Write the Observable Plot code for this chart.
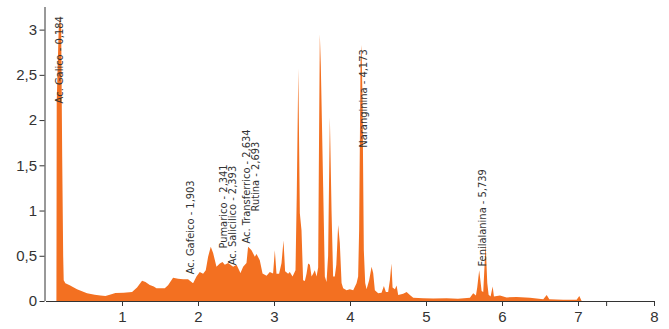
<!DOCTYPE html>
<html>
<head>
<meta charset="utf-8">
<script src="https://cdn.jsdelivr.net/npm/d3@7"></script>
<script src="https://cdn.jsdelivr.net/npm/@observablehq/plot@0.6"></script>
<style>
  html, body { margin: 0; padding: 0; background: #fff; }
  #chart svg { display: block; }
</style>
</head>
<body>
<div id="chart"></div>
<script>
// Retention time (min) and detector response
const time = [
  0.137, 0.141, 0.167, 0.184, 0.200, 0.213, 0.226, 0.233, 0.255, 0.312,
  0.408, 0.540, 0.641, 0.716, 0.782, 0.839, 0.914, 1.023, 1.132, 1.198,
  1.264, 1.309, 1.365, 1.418, 1.453, 1.563, 1.606, 1.672, 1.738, 1.804,
  1.869, 1.935, 1.980, 2.023, 2.067, 2.102, 2.133, 2.168, 2.199, 2.243,
  2.287, 2.322, 2.353, 2.396, 2.462, 2.507, 2.559, 2.594, 2.638, 2.659,
  2.704, 2.748, 2.770, 2.813, 2.849, 2.902, 2.945, 2.988, 3.011, 3.033,
  3.067, 3.099, 3.125, 3.146, 3.186, 3.208, 3.244, 3.283, 3.300, 3.320,
  3.340, 3.362, 3.383, 3.406, 3.428, 3.449, 3.472, 3.494, 3.515, 3.537,
  3.560, 3.581, 3.590, 3.603, 3.616, 3.630, 3.647, 3.669, 3.691, 3.712,
  3.735, 3.757, 3.778, 3.800, 3.820, 3.844, 3.866, 3.889, 3.910, 3.955,
  3.998, 4.042, 4.086, 4.107, 4.120, 4.139, 4.152, 4.165, 4.182, 4.200,
  4.218, 4.252, 4.284, 4.305, 4.327, 4.371, 4.415, 4.446, 4.472, 4.502,
  4.525, 4.545, 4.560, 4.591, 4.613, 4.634, 4.700, 4.745, 4.788, 4.832,
  4.963, 5.095, 5.271, 5.420, 5.578, 5.621, 5.657, 5.674, 5.700, 5.732,
  5.753, 5.785, 5.806, 5.824, 5.850, 5.877, 5.894, 5.973, 6.061, 6.193,
  6.368, 6.543, 6.588, 6.622, 6.806, 6.982, 7.017, 7.048
];
const response = [
  0.000, 2.200, 3.000, 3.150, 3.000, 1.600, 0.500, 0.230, 0.195, 0.175,
  0.130, 0.085, 0.070, 0.060, 0.055, 0.070, 0.088, 0.090, 0.100, 0.150,
  0.225, 0.210, 0.177, 0.160, 0.140, 0.140, 0.175, 0.257, 0.245, 0.240,
  0.240, 0.195, 0.270, 0.320, 0.300, 0.340, 0.490, 0.600, 0.530, 0.380,
  0.415, 0.430, 0.400, 0.420, 0.380, 0.400, 0.310, 0.380, 0.420, 0.600,
  0.560, 0.490, 0.520, 0.450, 0.305, 0.280, 0.320, 0.305, 0.560, 0.300,
  0.300, 0.420, 0.670, 0.330, 0.300, 0.320, 0.270, 0.340, 1.200, 2.570,
  0.970, 0.780, 0.230, 0.220, 0.300, 0.415, 0.400, 0.270, 0.300, 0.340,
  0.270, 0.370, 1.500, 2.950, 2.600, 2.000, 1.260, 0.270, 0.210, 0.500,
  2.030, 1.000, 0.270, 0.270, 0.400, 0.840, 0.640, 0.200, 0.140, 0.120,
  0.130, 0.120, 0.195, 0.270, 0.780, 2.660, 2.830, 2.200, 0.560, 0.200,
  0.130, 0.230, 0.380, 0.310, 0.120, 0.085, 0.090, 0.165, 0.100, 0.100,
  0.230, 0.415, 0.150, 0.130, 0.170, 0.066, 0.080, 0.100, 0.065, 0.037,
  0.030, 0.028, 0.030, 0.025, 0.035, 0.085, 0.060, 0.150, 0.340, 0.110,
  0.100, 0.640, 0.200, 0.070, 0.050, 0.160, 0.050, 0.060, 0.040, 0.045,
  0.035, 0.020, 0.066, 0.020, 0.015, 0.015, 0.055, 0.000
];

// Peak annotations
const peakNames = [
  "Ac. Galico - 0,184", "Ac. Gafeico - 1,903", "Pumarico - 2,341",
  "Ac. Salicilico - 2,393", "Ac. Transferrico - 2,634", "Rutina - 2,693",
  "Naranginina - 4,173", "Fenilalanina - 5,739"
];
const peakTimes = [0.184, 1.903, 2.341, 2.393, 2.634, 2.693, 4.173, 5.739];
const peakLabelLevel = [2.19, 0.30, 0.585, 0.40, 0.64, 0.995, 1.70, 0.387];

const xTicks = [1, 2, 3, 4, 5, 6, 7, 7.37, 8];
const yTicks = [0, 0.5, 1, 1.5, 2, 2.5, 3];

const series = time.map((t, i) => ({t, v: response[i]}));
const peaks = peakNames.map((name, i) => ({name, t: peakTimes[i], v: peakLabelLevel[i]}));
const shifted = new Set(["Ac. Salicilico - 2,393", "Rutina - 2,693"]);

const fmt = d => String(d).replace(".", ",");
const orange = "#f37021";
const ink = "#333333";
const labelFont = "'DejaVu Sans Condensed', 'Liberation Sans Narrow', sans-serif";

const chart = Plot.plot({
  width: 669,
  height: 329,
  marginLeft: 46,
  marginRight: 15,
  marginTop: 7,
  marginBottom: 28,
  style: {fontFamily: "'Liberation Sans', Arial, sans-serif", background: "#fff", color: ink},
  x: {domain: [0, 8]},
  y: {domain: [0, 3.25]},
  marks: [
    Plot.areaY(series, {x: "t", y: "v", fill: orange, curve: "linear"}),
    Plot.ruleY([0], {stroke: ink, strokeWidth: 1, x1: 0, x2: 8, dx: 0}),
    Plot.ruleX([0], {stroke: ink, strokeWidth: 1, y1: 0, y2: 3.25, dx: -1.5}),
    Plot.axisX({ticks: xTicks, tickFormat: d => Number.isInteger(d) ? fmt(d) : "", tickSize: 5, tickPadding: 5, fontSize: 15, label: null, stroke: ink, fill: ink}),
    Plot.axisY({ticks: yTicks, tickFormat: fmt, tickSize: 5, tickPadding: 3, fontSize: 15, label: null, stroke: ink, fill: ink, dx: -1.5}),
    Plot.text(peaks.filter(d => !shifted.has(d.name)), {
      x: "t", y: "v", text: "name", rotate: -90, textAnchor: "start", lineAnchor: "bottom",
      dx: 3, fontSize: 11, fill: ink, fontFamily: labelFont
    }),
    Plot.text(peaks.filter(d => shifted.has(d.name)), {
      x: "t", y: "v", text: "name", rotate: -90, textAnchor: "start", lineAnchor: "bottom",
      dx: 7.5, fontSize: 11, fill: ink, fontFamily: labelFont
    })
  ]
});
document.getElementById("chart").appendChild(chart);
</script>
</body>
</html>
